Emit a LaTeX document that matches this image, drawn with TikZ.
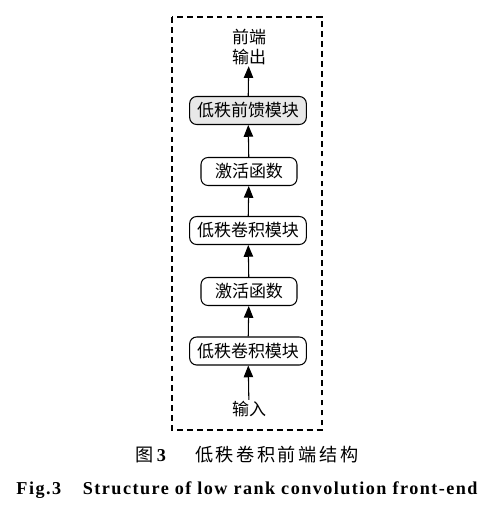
\documentclass[tikz,border=0pt]{standalone}
\usepackage{fontspec}
\setmainfont{Liberation Serif}
\newfontfamily\cjk{Noto Sans CJK SC}
\newfontfamily\cjkcap[LetterSpace=14]{Noto Sans CJK SC}
\newfontfamily\engcap[LetterSpace=8]{Liberation Serif}
\usepackage{tikz}
\usetikzlibrary{arrows.meta, positioning}

\begin{document}
\begin{tikzpicture}[
  x=0.03cm, y=-0.03cm,
  block/.style={draw, line width=0.9pt, rounded corners=6pt, font=\cjk\fontsize{14.5}{16}\selectfont,
    minimum height=0.84cm, inner xsep=3pt, align=center},
  wideblock/.style={block, minimum width=3.5cm},
  narrowblock/.style={block, minimum width=2.88cm},
  label/.style={font=\cjk\fontsize{14.5}{17}\selectfont, align=center, inner sep=1pt},
  flow/.style={-{Triangle[length=10pt,width=8pt]}, line width=0.9pt},
]
\useasboundingbox (0,0) rectangle (498,513);

% dashed frame
\draw[dash pattern=on 5pt off 3.5pt, line width=0.9pt] (172,17) rectangle (322,430);

% blocks, bottom to top
\node[label] (input) at (249,409) {输入};
\node[wideblock] (conv1) at (248,351) {低秩卷积模块};
\node[narrowblock] (act1) at (249,291.5) {激活函数};
\node[wideblock] (conv2) at (248,230.5) {低秩卷积模块};
\node[narrowblock] (act2) at (249,171.5) {激活函数};
\node[wideblock, fill=black!9] (ffn) at (248,110.5) {低秩前馈模块};
\node[label] (output) at (249,47) {前端\\输出};

% arrows
\draw[flow] (input) -- (conv1);
\draw[flow] (conv1) -- (act1);
\draw[flow] (act1) -- (conv2);
\draw[flow] (conv2) -- (act2);
\draw[flow] (act2) -- (ffn);
\draw[flow] (ffn) -- (output);

% caption
\node[font=\fontsize{15.5}{17}\selectfont, inner sep=0pt] (capcn) at (247,455)
  {{\cjk 图}\,\textbf{3}\hspace{1.6em}{\cjkcap 低秩卷积前端结构}};
\node[font=\engcap\bfseries\fontsize{15.5}{17}\selectfont, inner sep=0pt] (capen) at (247,490)
  {Fig.3\hspace{1.2em}Structure of low rank convolution front-end};
\end{tikzpicture}
\end{document}
